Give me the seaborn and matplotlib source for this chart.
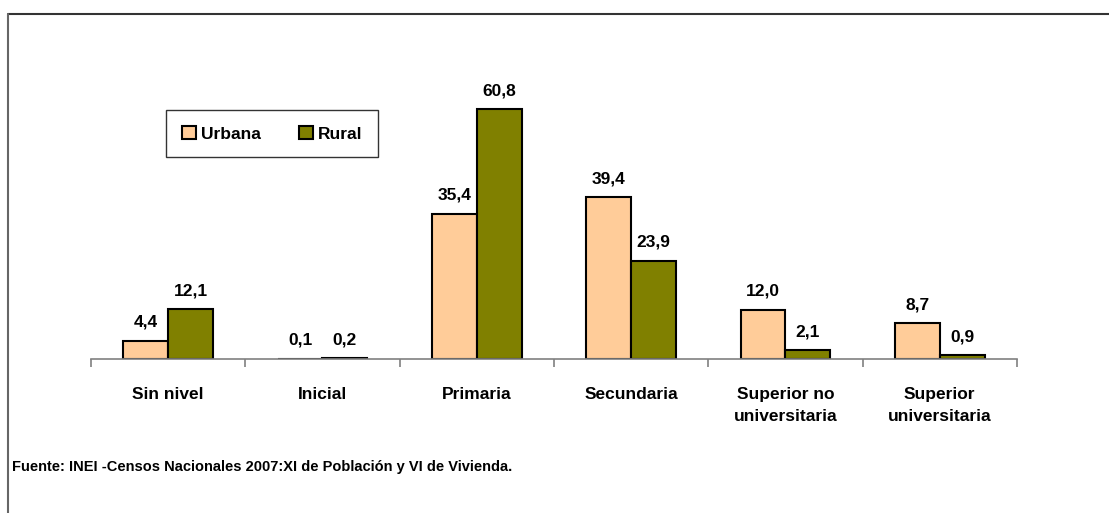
import pandas as pd
import seaborn as sns
import matplotlib.pyplot as plt
from matplotlib.lines import Line2D
from matplotlib.ticker import FixedLocator

sns.set_theme(style='white')
plt.rcParams['font.family'] = ['Liberation Sans Narrow', 'Liberation Sans', 'DejaVu Sans']
plt.rcParams['font.weight'] = 'bold'
plt.rcParams['text.color'] = 'black'
plt.rcParams['xtick.color'] = 'black'

# data
niveles = ['Sin nivel', 'Inicial', 'Primaria', 'Secundaria',
           'Superior no\nuniversitaria', 'Superior\nuniversitaria']
urbana = [4.4, 0.1, 35.4, 39.4, 12.0, 8.7]
rural = [12.1, 0.2, 60.8, 23.9, 2.1, 0.9]
series = ['Urbana', 'Rural']
colores = ['#FFCC99', '#808000']

df = pd.DataFrame({
    'nivel': niveles * 2,
    'area': ['Urbana'] * len(niveles) + ['Rural'] * len(niveles),
    'valor': urbana + rural,
})

fig = plt.figure(figsize=(11.09, 5.13), dpi=100)
ax = fig.add_axes([0.082, 0.300, 0.835, 0.577])

sns.barplot(data=df, x='nivel', y='valor', hue='area', hue_order=series,
            palette=colores, width=0.58, edgecolor='black', linewidth=1.5,
            saturation=1, ax=ax)

for cont in ax.containers:
    labels = [f'{v:.1f}'.replace('.', ',') for v in cont.datavalues]
    ax.bar_label(cont, labels=labels, padding=8, fontsize=12.5,
                 fontweight='bold', color='black')

ax.set_ylim(0, 72)
ax.set_xlim(-0.5, 5.5)
ax.set_xlabel(None)
ax.set_ylabel(None)
ax.set_yticks([])
for s in ['top', 'right', 'left']:
    ax.spines[s].set_visible(False)
ax.spines['bottom'].set_color('#808080')
ax.spines['bottom'].set_linewidth(1.2)

ax.tick_params(axis='x', which='major', length=0, pad=20, labelsize=12.5,
               labelcolor='black')
ax.xaxis.set_minor_locator(FixedLocator([i - 0.5 for i in range(len(niveles) + 1)]))
ax.tick_params(axis='x', which='minor', bottom=True, length=6, width=1.2,
               color='#808080', direction='out')
for t in ax.get_xticklabels():
    t.set_fontweight('bold')
    t.set_verticalalignment('top')
    t.set_linespacing(1.6)

handles, labels = ax.get_legend_handles_labels()
leg = ax.legend(handles, labels, ncol=2, loc='upper left',
                bbox_to_anchor=(0.072, 0.87), frameon=True, fancybox=False,
                edgecolor='black', handlelength=0.8,
                handleheight=0.8, handletextpad=0.3, columnspacing=2.2,
                borderpad=0.9, prop={'weight': 'bold', 'size': 12.5})
leg.get_frame().set_linewidth(1.0)
for t in leg.get_texts():
    t.set_color('black')

fig.text(0.011, 1 - 467 / 513, 'Fuente: INEI -Censos Nacionales 2007:XI de Población y VI de Vivienda.',
         fontsize=10.5, fontweight='bold', va='center', ha='left', color='black')

# outer frame (top and left edges)
fig.add_artist(Line2D([8 / 1109, 1.0], [1 - 14 / 513, 1 - 14 / 513],
                      transform=fig.transFigure, color='#333333', linewidth=1.5))
fig.add_artist(Line2D([8 / 1109, 8 / 1109], [0.0, 1 - 14 / 513],
                      transform=fig.transFigure, color='#666666', linewidth=1.5))

plt.savefig('out.png', dpi=100)
